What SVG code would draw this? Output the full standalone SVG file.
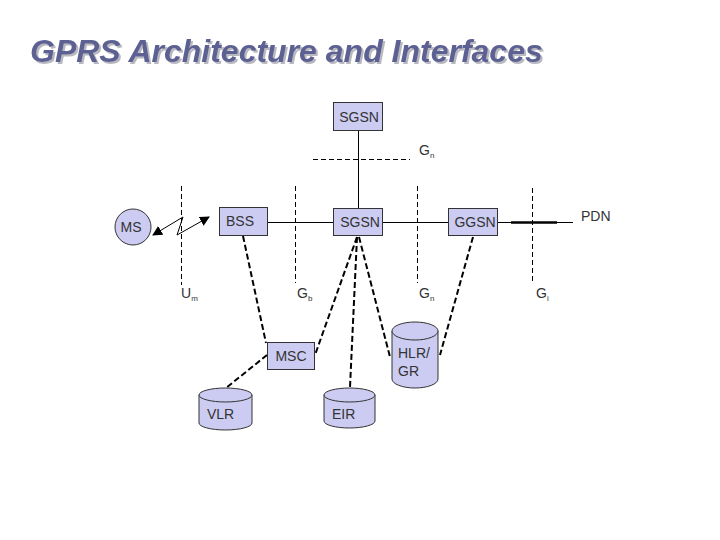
<svg xmlns="http://www.w3.org/2000/svg" width="720" height="540" viewBox="0 0 720 540">
<defs>
<style>
.t{font-family:"Liberation Sans",Arial,sans-serif;font-size:14px;fill:#333}
.s{font-size:8px}
.box{fill:#ccccf2;stroke:#333;stroke-width:1}
.ln{stroke:#000;stroke-width:1;fill:none}
.if{stroke:#000;stroke-width:1;stroke-dasharray:5,3;fill:none}
.dc{stroke:#000;stroke-width:2;stroke-dasharray:6,3;fill:none}
.title{font-family:"Liberation Sans",Arial,sans-serif;font-size:32px;font-weight:bold;font-style:italic;fill:#5c6092}
</style>
<filter id="sh" x="-5%" y="-20%" width="110%" height="150%">
<feDropShadow dx="2" dy="2" stdDeviation="0.6" flood-color="#b8b8c0" flood-opacity="1"/>
</filter>
<marker id="ah" viewBox="0 0 10 10" refX="9" refY="5" markerWidth="10" markerHeight="10" orient="auto-start-reverse" markerUnits="userSpaceOnUse">
<path d="M0,0 L10,5 L0,10 z" fill="#000"/>
</marker>
</defs>
<rect width="720" height="540" fill="#fff"/>
<g id="title">
<text class="title" x="30" y="62" filter="url(#sh)">GPRS Architecture and Interfaces</text>
</g>
<g id="connectors">
<line class="ln" x1="358.5" y1="130" x2="358.5" y2="208"/>
<line class="if" x1="313" y1="159.5" x2="410" y2="159.5"/>
<line class="ln" x1="267" y1="222.5" x2="333" y2="222.5"/>
<line class="ln" x1="382" y1="222.5" x2="448" y2="222.5"/>
<line class="ln" x1="497" y1="222.5" x2="573" y2="222.5"/>
<line x1="511" y1="222.5" x2="557" y2="222.5" stroke="#000" stroke-width="2.5"/>
<line class="if" x1="181.5" y1="186" x2="181.5" y2="285"/>
<line class="if" x1="295.5" y1="186" x2="295.5" y2="283"/>
<line class="if" x1="417.5" y1="186" x2="417.5" y2="283"/>
<line class="if" x1="532.5" y1="188" x2="532.5" y2="283"/>
<polyline class="ln" points="153,235 183,217 177,235 209,217" marker-start="url(#ah)" marker-end="url(#ah)"/>
<line class="dc" x1="243" y1="236" x2="266" y2="343"/>
<line class="dc" x1="357" y1="237" x2="315" y2="355"/>
<line class="dc" x1="357" y1="237" x2="350" y2="387"/>
<line class="dc" x1="359" y1="237" x2="390" y2="357"/>
<line class="dc" x1="473" y1="237" x2="440" y2="355"/>
<line class="dc" x1="267" y1="355" x2="226" y2="388"/>
</g>
<g id="sgsn-top">
<rect class="box" x="333.5" y="102.5" width="49" height="28"/>
<text class="t" x="359" y="122" text-anchor="middle">SGSN</text>
</g>
<g id="ms">
<circle class="box" cx="133" cy="227" r="18"/>
<text class="t" x="131" y="232" text-anchor="middle">MS</text>
</g>
<g id="bss">
<rect class="box" x="219.5" y="207.5" width="48" height="28"/>
<text class="t" x="240" y="226" text-anchor="middle">BSS</text>
</g>
<g id="sgsn">
<rect class="box" x="333.5" y="208.5" width="49" height="27"/>
<text class="t" x="360" y="227" text-anchor="middle">SGSN</text>
</g>
<g id="ggsn">
<rect class="box" x="448.5" y="208.5" width="49" height="27"/>
<text class="t" x="475" y="227" text-anchor="middle">GGSN</text>
</g>
<g id="pdn">
<text class="t" x="581" y="221">PDN</text>
</g>
<g id="msc">
<rect class="box" x="267.5" y="342.5" width="47" height="27"/>
<text class="t" x="291" y="361" text-anchor="middle">MSC</text>
</g>
<g id="hlr">
<path class="box" d="M392,331 A23,9 0 0 1 438,331 L438,379 A23,9 0 0 1 392,379 Z"/>
<path class="box" d="M392,331 A23,9 0 0 0 438,331" fill="none"/>
<text class="t" x="398" y="358">HLR/</text>
<text class="t" x="398" y="376">GR</text>
</g>
<g id="vlr">
<path class="box" d="M199,395 A26.5,7 0 0 1 252,395 L252,423 A26.5,7 0 0 1 199,423 Z"/>
<path class="box" d="M199,395 A26.5,7 0 0 0 252,395" fill="none"/>
<text class="t" x="207" y="419">VLR</text>
</g>
<g id="eir">
<path class="box" d="M324,395 A25.5,7 0 0 1 375,395 L375,421 A25.5,7 0 0 1 324,421 Z"/>
<path class="box" d="M324,395 A25.5,7 0 0 0 375,395" fill="none"/>
<text class="t" x="332" y="419">EIR</text>
</g>
<g id="labels">
<text class="t" x="181" y="298">U<tspan class="s" dy="3">m</tspan></text>
<text class="t" x="297" y="298">G<tspan class="s" dy="3">b</tspan></text>
<text class="t" x="419" y="298">G<tspan class="s" dy="3">n</tspan></text>
<text class="t" x="536" y="298">G<tspan class="s" dy="3">i</tspan></text>
<text class="t" x="419" y="155">G<tspan class="s" dy="3">n</tspan></text>
</g>
</svg>
